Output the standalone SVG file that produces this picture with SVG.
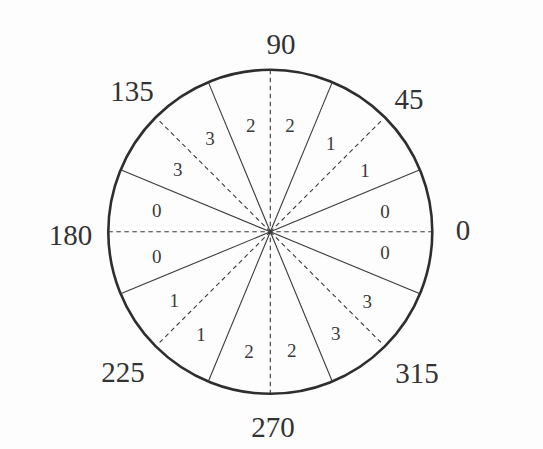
<svg xmlns="http://www.w3.org/2000/svg" width="543" height="449" viewBox="0 0 543 449">
<style>
.bg{fill:#fdfdfd}
.rim{fill:none;stroke:#2e2e2e;stroke-width:2.6}
.solid{stroke:#3a3a3a;stroke-width:1.1;fill:none}
.dash{stroke:#3a3a3a;stroke-width:1.1;fill:none;stroke-dasharray:4.5 3.5}
.big{font-family:"Liberation Serif","Times New Roman",serif;font-size:29px;fill:#333;text-anchor:middle}
.small{font-family:"Liberation Serif","Times New Roman",serif;font-size:19px;fill:#3a3a3a;text-anchor:middle}
</style>
<rect class="bg" x="0" y="0" width="543" height="449"/>
<g id="circle">
<circle class="rim" cx="270.3" cy="231.8" r="162"/>
</g>
<g id="connectors">
<line class="solid" x1="270.3" y1="231.8" x2="419.97" y2="169.8"/>
<line class="solid" x1="270.3" y1="231.8" x2="332.3" y2="82.13"/>
<line class="solid" x1="270.3" y1="231.8" x2="208.3" y2="82.13"/>
<line class="solid" x1="270.3" y1="231.8" x2="120.63" y2="169.8"/>
<line class="solid" x1="270.3" y1="231.8" x2="120.63" y2="293.8"/>
<line class="solid" x1="270.3" y1="231.8" x2="208.3" y2="381.47"/>
<line class="solid" x1="270.3" y1="231.8" x2="332.3" y2="381.47"/>
<line class="solid" x1="270.3" y1="231.8" x2="419.97" y2="293.8"/>
<line class="dash" x1="108.3" y1="231.8" x2="432.3" y2="231.8"/>
<line class="dash" x1="270.3" y1="69.8" x2="270.3" y2="393.8"/>
<line class="dash" x1="270.3" y1="231.8" x2="382" y2="120.1"/>
<line class="dash" x1="270.3" y1="231.8" x2="158.6" y2="120.1"/>
<line class="dash" x1="270.3" y1="231.8" x2="158.6" y2="343.5"/>
<line class="dash" x1="270.3" y1="231.8" x2="382" y2="343.5"/>
</g>
<g id="angle-labels">
<text class="big" x="281" y="54">90</text>
<text class="big" x="132" y="101">135</text>
<text class="big" x="409" y="109">45</text>
<text class="big" x="70.5" y="245">180</text>
<text class="big" x="463" y="240">0</text>
<text class="big" x="123" y="382">225</text>
<text class="big" x="273" y="437">270</text>
<text class="big" x="417" y="383">315</text>
</g>
<g id="sector-labels">
<text class="small" x="250.7" y="131.5">2</text>
<text class="small" x="290" y="131.5">2</text>
<text class="small" x="210" y="144.5">3</text>
<text class="small" x="177.7" y="175.5">3</text>
<text class="small" x="330.7" y="149.5">1</text>
<text class="small" x="365" y="176.5">1</text>
<text class="small" x="156.7" y="216.5">0</text>
<text class="small" x="385" y="218">0</text>
<text class="small" x="156.7" y="262.5">0</text>
<text class="small" x="385" y="258.5">0</text>
<text class="small" x="174.3" y="306.5">1</text>
<text class="small" x="201" y="340.5">1</text>
<text class="small" x="249" y="357.5">2</text>
<text class="small" x="291.7" y="357">2</text>
<text class="small" x="335.7" y="339.5">3</text>
<text class="small" x="367.3" y="307.5">3</text>
</g>
</svg>
